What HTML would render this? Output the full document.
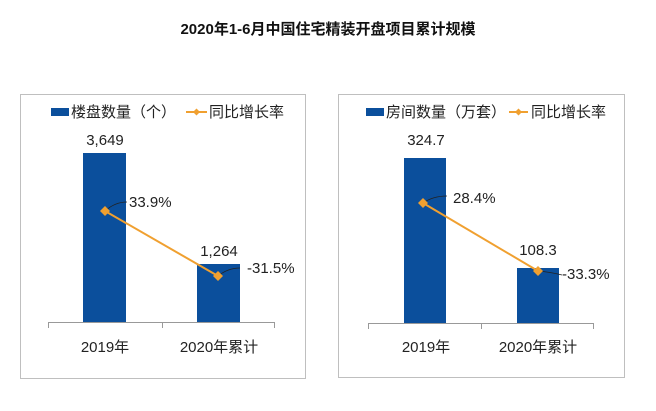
<!DOCTYPE html>
<html><head><meta charset="utf-8"><style>
body{margin:0;background:#fff;}
svg text{font-family:"Liberation Sans","Noto Sans CJK SC",sans-serif;fill:#222;}
</style></head><body>
<svg width="656" height="406" viewBox="0 0 656 406" xmlns="http://www.w3.org/2000/svg">
<rect width="656" height="406" fill="#fff"/>
<text x="328" y="34" text-anchor="middle" font-size="15" font-weight="bold" style="fill:#111">2020年1-6月中国住宅精装开盘项目累计规模</text>
<!-- Left panel -->
<rect x="20.5" y="94.5" width="285" height="284" fill="none" stroke="#bfbfbf"/>
<rect x="51" y="108" width="18" height="8" fill="#0b4f9c"/>
<text x="71" y="117" font-size="15">楼盘数量（个）</text>
<line x1="186" y1="112" x2="207" y2="112" stroke="#f0a030" stroke-width="2"/>
<path d="M196.5 108.5 L200 112 L196.5 115.5 L193 112Z" fill="#f0a030"/>
<text x="209" y="117" font-size="15">同比增长率</text>
<rect x="83" y="153" width="43" height="169" fill="#0b4f9c"/>
<rect x="197" y="264" width="43" height="58" fill="#0b4f9c"/>
<line x1="48" y1="322.5" x2="275" y2="322.5" stroke="#999"/>
<line x1="48.5" y1="322" x2="48.5" y2="328" stroke="#999"/>
<line x1="162.5" y1="322" x2="162.5" y2="328" stroke="#999"/>
<line x1="274.5" y1="322" x2="274.5" y2="328" stroke="#999"/>
<text x="105" y="145" text-anchor="middle" font-size="15">3,649</text>
<text x="219" y="256" text-anchor="middle" font-size="15">1,264</text>
<path d="M105 211 Q115 202 127 202" fill="none" stroke="#222" stroke-width="0.8"/>
<path d="M218 276 Q228 268 240 268" fill="none" stroke="#222" stroke-width="0.8"/>
<line x1="105" y1="211" x2="218" y2="276" stroke="#f0a030" stroke-width="2"/>
<path d="M105 206 L110 211 L105 216 L100 211Z" fill="#f0a030"/>
<path d="M218 271 L223 276 L218 281 L213 276Z" fill="#f0a030"/>
<text x="129" y="207" font-size="15">33.9%</text>
<text x="247" y="273" font-size="15">-31.5%</text>
<text x="105" y="352" text-anchor="middle" font-size="15">2019年</text>
<text x="219" y="352" text-anchor="middle" font-size="15">2020年累计</text>
<!-- Right panel -->
<rect x="338.5" y="94.5" width="286" height="283" fill="none" stroke="#bfbfbf"/>
<rect x="366" y="108" width="18" height="8" fill="#0b4f9c"/>
<text x="386" y="117" font-size="15">房间数量（万套）</text>
<line x1="509" y1="112" x2="528" y2="112" stroke="#f0a030" stroke-width="2"/>
<path d="M518.5 108.5 L522 112 L518.5 115.5 L515 112Z" fill="#f0a030"/>
<text x="531" y="117" font-size="15">同比增长率</text>
<rect x="404" y="158" width="42" height="165" fill="#0b4f9c"/>
<rect x="517" y="268" width="42" height="55" fill="#0b4f9c"/>
<line x1="368" y1="323.5" x2="594" y2="323.5" stroke="#999"/>
<line x1="368.5" y1="323" x2="368.5" y2="329" stroke="#999"/>
<line x1="481.5" y1="323" x2="481.5" y2="329" stroke="#999"/>
<line x1="593.5" y1="323" x2="593.5" y2="329" stroke="#999"/>
<text x="426" y="145" text-anchor="middle" font-size="15">324.7</text>
<text x="538" y="255" text-anchor="middle" font-size="15">108.3</text>
<path d="M423 203 Q433 196 447 196" fill="none" stroke="#222" stroke-width="0.8"/>
<path d="M538 271 Q550 272 562 275" fill="none" stroke="#222" stroke-width="0.8"/>
<line x1="423" y1="203" x2="538" y2="271" stroke="#f0a030" stroke-width="2"/>
<path d="M423 198 L428 203 L423 208 L418 203Z" fill="#f0a030"/>
<path d="M538 266 L543 271 L538 276 L533 271Z" fill="#f0a030"/>
<text x="453" y="203" font-size="15">28.4%</text>
<text x="562" y="279" font-size="15">-33.3%</text>
<text x="426" y="352" text-anchor="middle" font-size="15">2019年</text>
<text x="538" y="352" text-anchor="middle" font-size="15">2020年累计</text>
</svg>
</body></html>
